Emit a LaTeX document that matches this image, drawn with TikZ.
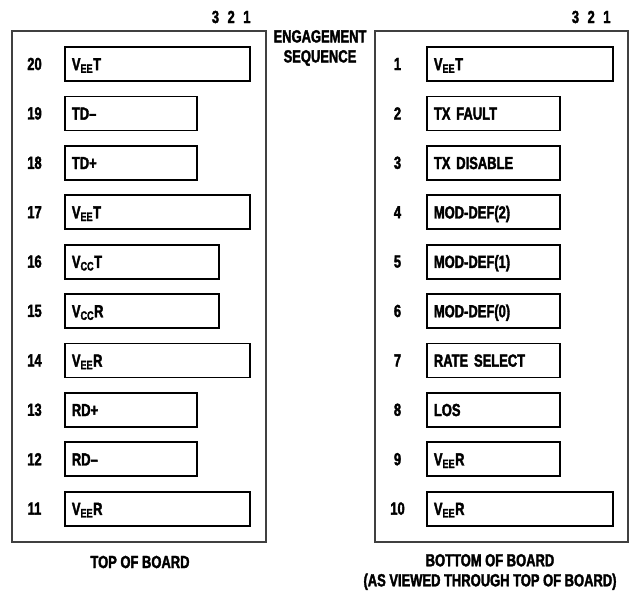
\documentclass[tikz,border=0pt]{standalone}
\usepackage{fontspec}
\setmainfont{Liberation Sans}[FakeStretch=0.74, BoldFeatures={FakeBold=2}]
\usepackage{tikz}
\usetikzlibrary{positioning}

\tikzset{
  board/.style={draw=black!75, line width=1.2pt},
  pinbox/.style={draw, line width=1.8pt, anchor=west, minimum height=34pt,
    inner xsep=7pt, align=left, text height=12.5pt, text depth=0pt},
  pinnum/.style={font=\bfseries\fontsize{17.5}{20}\selectfont},
  caption/.style={font=\bfseries\fontsize{17.5}{20}\selectfont, align=center},
}

\begin{document}
\begin{tikzpicture}[x=1pt, y=-1pt, font=\bfseries\fontsize{17.5}{20}\selectfont]
  \useasboundingbox (0,0) rectangle (631,594);

  % boards
  \draw[board] (12,31) rectangle (266,542);
  \draw[board] (375,31) rectangle (628,542);

  % top of board, pins 20 to 11
  \foreach \k/\n/\t/\w in {0/20/V\textsubscript{EE}T/185, 1/19/TD–/132, 2/18/TD+/132,
      3/17/V\textsubscript{EE}T/185, 4/16/V\textsubscript{CC}T/154, 5/15/V\textsubscript{CC}R/154,
      6/14/V\textsubscript{EE}R/185, 7/13/RD+/132, 8/12/RD–/132, 9/11/V\textsubscript{EE}R/185} {
    \node[pinbox, minimum width=\w pt, text width=\w pt-14pt] (pin\n) at (64,{64+49.4*\k}) {\t};
    \node[pinnum] (num\n) at (34.5,{64+49.4*\k}) {\n};
  }

  % bottom of board, pins 1 to 10
  \foreach \k/\n/\t/\w in {0/1/V\textsubscript{EE}T/186, 1/2/TX FAULT/133, 2/3/TX DISABLE/133,
      3/4/MOD-DEF(2)/133, 4/5/MOD-DEF(1)/133, 5/6/MOD-DEF(0)/133,
      6/7/RATE SELECT/133, 7/8/LOS/133, 8/9/V\textsubscript{EE}R/133, 9/10/V\textsubscript{EE}R/186} {
    \node[pinbox, minimum width=\w pt, text width=\w pt-14pt] (pin\n) at (426,{64+49.4*\k}) {\t};
    \node[pinnum] (num\n) at (397.5,{64+49.4*\k}) {\n};
  }

  % engagement sequence
  \node[anchor=east] (seqtop) at (254,17) {3\hspace{8.5pt}2\hspace{8.5pt}1};
  \node[anchor=east] (seqbot) at (614,17) {3\hspace{8.5pt}2\hspace{8.5pt}1};
  \node[caption] (engage) at (320,48) {ENGAGEMENT\\SEQUENCE};

  \node[caption] (topcap) at (140,562) {TOP OF BOARD};
  \node[caption] (botcap) at (490,572) {BOTTOM OF BOARD\\(AS VIEWED THROUGH TOP OF BOARD)};
\end{tikzpicture}
\end{document}
